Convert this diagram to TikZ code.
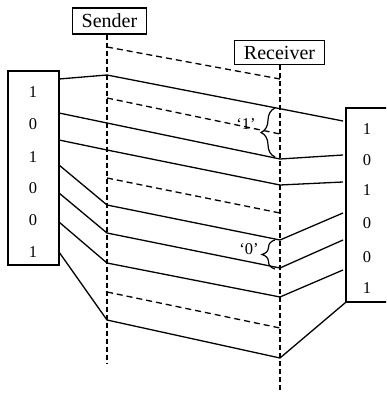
\documentclass[tikz,border=0pt]{standalone}
\usepackage{fontspec}
\setmainfont{Liberation Serif}
\usetikzlibrary{decorations.pathreplacing}

\begin{document}
\begin{tikzpicture}[x=1pt, y=-1pt,
  party/.style={draw, line width=1.3pt, inner xsep=9.5pt, inner ysep=0pt,
                font=\fontsize{20}{24}\selectfont},
  bitcol/.style={draw, line width=1.3pt, minimum width=51pt, inner sep=0pt},
  bit/.style={font=\fontsize{16.5}{19}\selectfont},
  tag/.style={font=\fontsize{16.5}{19}\selectfont, inner sep=0pt},
  lifeline/.style={line width=1.3pt, dash pattern=on 5pt off 3pt},
  frameline/.style={line width=1.3pt, dash pattern=on 6pt off 4pt},
  signal/.style={line width=1.3pt},
  group/.style={line width=1.2pt, decorate, decoration={brace, amplitude=14pt}}
]
  \useasboundingbox (0,0) rectangle (386,393);
  \clip (0,0) rectangle (386,393);

  % Parties and their time lines
  \node[party, minimum height=26pt] (snd) at (109.5,21) {Sender};
  \node[party, minimum height=24pt] (rcv) at (279.5,52.5) {Receiver};
  \coordinate (sEnd) at (107,363);
  \coordinate (rEnd) at (280,400);
  \draw[lifeline] (sEnd |- snd.south) -- (sEnd);
  \draw[lifeline] (rEnd |- rcv.south) -- (rEnd);

  % Bit columns
  \node[bitcol, minimum height=194pt] (src) at (33.5,168) {};
  \node[bitcol, minimum height=194pt] (dst) at (371.5,205) {};
  \node[bit] (x1) at (33,92)  {1};
  \node[bit] (x2) at (33,124) {0};
  \node[bit] (x3) at (33,157) {1};
  \node[bit] (x4) at (33,188) {0};
  \node[bit] (x5) at (33,220) {0};
  \node[bit] (x6) at (33,252) {1};
  \node[bit] (y1) at (367,129) {1};
  \node[bit] (y2) at (367,160) {0};
  \node[bit] (y3) at (367,190) {1};
  \node[bit] (y4) at (367,223) {0};
  \node[bit] (y5) at (367,257) {0};
  \node[bit] (y6) at (367,288) {1};

  % Frame borders (dashed)
  \coordinate (f1s) at (107,47);  \coordinate (f1r) at (280,79);
  \coordinate (f2s) at (107,98);  \coordinate (f2r) at (280,134);
  \coordinate (f3s) at (107,178); \coordinate (f3r) at (280,213);
  \coordinate (f4s) at (107,292); \coordinate (f4r) at (280,328);
  \draw[frameline] (f1s) -- (f1r);
  \draw[frameline] (f2s) -- (f2r);
  \draw[frameline] (f3s) -- (f3r);
  \draw[frameline] (f4s) -- (f4r);

  % Signal paths
  \coordinate (a1) at (59,79);  \coordinate (s1) at (107,75);
  \coordinate (a2) at (59,113); \coordinate (s2) at (107,123); \coordinate (r2) at (280,159);
  \coordinate (a3) at (59,140); \coordinate (s3) at (107,150); \coordinate (r3) at (280,185);
  \coordinate (a4) at (59,165); \coordinate (s4) at (107,205); \coordinate (r4) at (280,240);
  \coordinate (a5) at (59,193); \coordinate (s5) at (107,233); \coordinate (r5) at (280,268);
  \coordinate (a6) at (59,222); \coordinate (s6) at (107,263); \coordinate (r6) at (280,297);
  \coordinate (a7) at (59,252); \coordinate (s7) at (107,320); \coordinate (r7) at (280,358);
  \coordinate (b1) at (343,121); \coordinate (b2) at (343,155);
  \coordinate (b3) at (343,182); \coordinate (b4) at (343,213);
  \coordinate (b5) at (343,240); \coordinate (b6) at (343,270);
  \draw[signal] (a1) -- (s1) -- (b1);
  \draw[signal] (a2) -- (s2) -- (r2) -- (b2);
  \draw[signal] (a3) -- (s3) -- (r3) -- (b3);
  \draw[signal] (a4) -- (s4) -- (r4) -- (b4);
  \draw[signal] (a5) -- (s5) -- (r5) -- (b5);
  \draw[signal] (a6) -- (s6) -- (r6) -- (b6);
  \draw[signal] (a7) -- (s7) -- (r7) -- (dst.south west);

  % Decoded bits
  \draw[group] (275,157) -- (275,108);
  \node[tag] (t1) at (246,124) {‘1’};
  \draw[group, decoration={amplitude=13pt}] (275,269) -- (275,240);
  \node[tag] (t0) at (249,249) {‘0’};

\end{tikzpicture}
\end{document}
